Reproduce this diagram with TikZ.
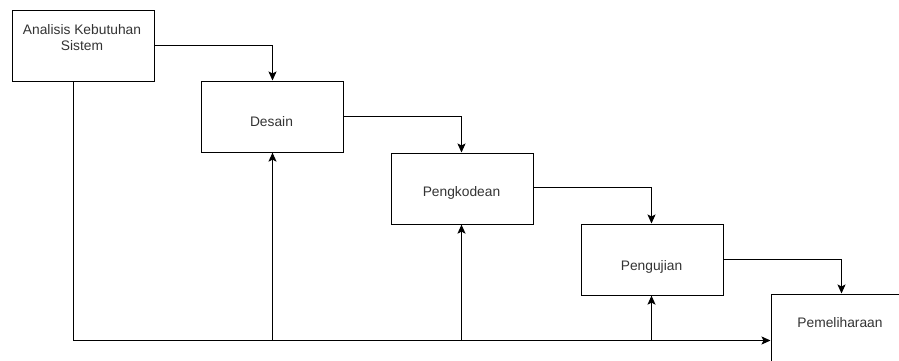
\documentclass[tikz,border=0pt]{standalone}
\usepackage{fontspec}
\setmainfont{Liberation Sans}
\usetikzlibrary{arrows.meta}
\begin{document}
\begin{tikzpicture}[x=1pt,y=-1pt,
  box/.style={draw=black, line width=1.1pt, minimum width=142pt, minimum height=71pt, inner sep=0pt, anchor=north west},
  txt/.style={font=\fontsize{13.8}{15.5}\selectfont, text=black!80, align=center, inner sep=0pt},
  link/.style={draw=black, line width=1.1pt, -{Stealth[length=9pt,width=8pt,inset=2pt]}},
  plain/.style={draw=black, line width=1.1pt}]
\useasboundingbox (0,0) rectangle (899,360);
\clip (0,0) rectangle (899,360);
% boxes
\node[box] (a) at (11.5,9.5) {};
\node[box] (d) at (200.5,80.5) {};
\node[box] (k) at (390.5,152.5) {};
\node[box] (u) at (580.5,223.5) {};
\node[box, minimum width=150pt, minimum height=90pt] (p) at (770.5,293.5) {};
% texts
\node[txt] (at) at (82,37.5) {Analisis Kebutuhan\\Sistem};
\node[txt] (dt) at (271.5,122) {Desain};
\node[txt] (kt) at (461.5,193) {Pengkodean};
\node[txt] (ut) at (651.5,267) {Pengujian};
\node[txt] (pt) at (840,323) {Pemeliharaan};
% helper coordinates
\coordinate (c1) at (272.5,45.5);
\coordinate (c2) at (461.5,116.5);
\coordinate (c3) at (651.5,187.5);
\coordinate (c4) at (841.5,259.5);
\coordinate (b0) at (73.5,340.5);
\coordinate (b1) at (272.5,340.5);
\coordinate (b2) at (461.5,340.5);
\coordinate (b3) at (651.5,340.5);
\coordinate (b4) at (770.5,340.5);
% forward arrows
\draw[link] (a.east |- c1) -- (c1) -- (c1 |- d.north);
\draw[link] (d.east |- c2) -- (c2) -- (c2 |- k.north);
\draw[link] (k.east |- c3) -- (c3) -- (c3 |- u.north);
\draw[link] (u.east |- c4) -- (c4) -- (c4 |- p.north);
% feedback line
\draw[plain] (b0 |- a.south) -- (b0);
\draw[link] (b0) -- (b4);
\draw[link] (b1) -- (b1 |- d.south);
\draw[link] (b2) -- (b2 |- k.south);
\draw[link] (b3) -- (b3 |- u.south);
\end{tikzpicture}
\end{document}
